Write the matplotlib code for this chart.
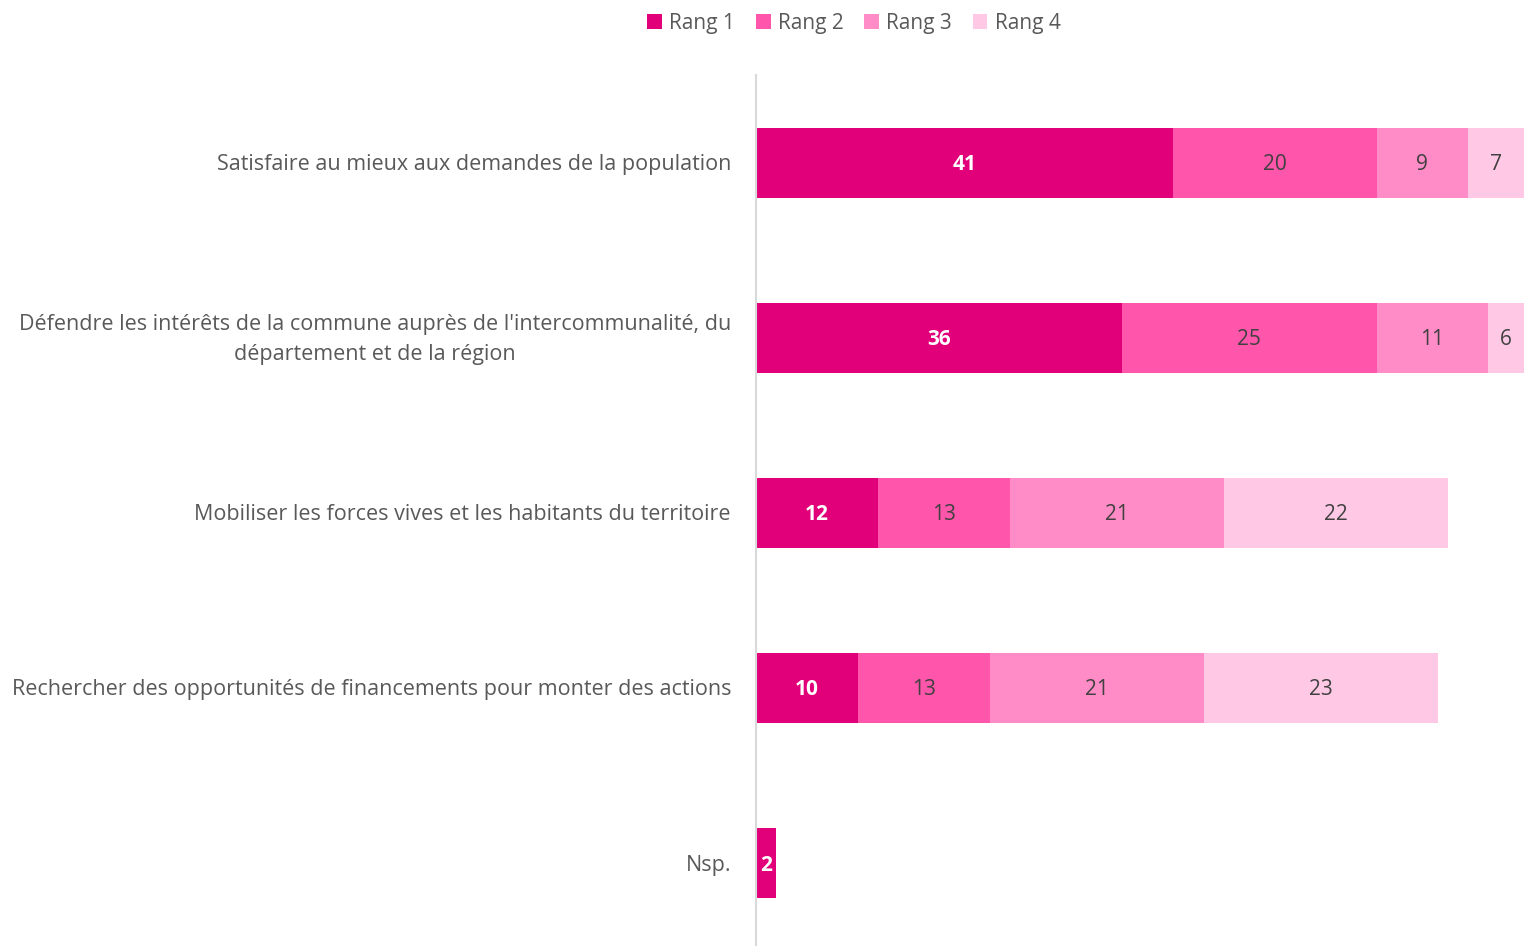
import matplotlib.pyplot as plt

plt.rcParams['font.family'] = ['Open Sans', 'DejaVu Sans']

# data
categories = [
    "Satisfaire au mieux aux demandes de la population",
    "Défendre les intérêts de la commune auprès de l'intercommunalité, du\ndépartement et de la région",
    "Mobiliser les forces vives et les habitants du territoire",
    "Rechercher des opportunités de financements pour monter des actions",
    "Nsp.",
]
series_names = ["Rang 1", "Rang 2", "Rang 3", "Rang 4"]
rang1 = [41, 36, 12, 10, 2]
rang2 = [20, 25, 13, 13, 0]
rang3 = [9, 11, 21, 21, 0]
rang4 = [7, 6, 22, 23, 0]

colors = ["#E2007A", "#FF55AA", "#FF8CC6", "#FFC8E4"]
text_colors = ["white", "#404040", "#404040", "#404040"]
xmax = 75.5

fig = plt.figure(figsize=(15.24, 9.46), dpi=100)
ax = fig.add_axes([756 / 1524, -4.5 / 946, 1 - 756 / 1524, 875.5 / 946])

y = list(range(len(categories)))
left = [0] * len(categories)
for k, vals in enumerate([rang1, rang2, rang3, rang4]):
    ax.barh(y, vals, left=left, height=0.4, color=colors[k], label=series_names[k])
    for i, v in enumerate(vals):
        if v > 0:
            a = left[i]
            b = min(left[i] + v, xmax)
            ax.annotate(str(v), xy=((a + b) / 2, y[i]), xytext=(0, -1.5),
                        textcoords='offset points', ha='center', va='center',
                        fontsize=15, color=text_colors[k],
                        fontweight='bold' if k == 0 else 'normal')
    left = [l + v for l, v in zip(left, vals)]

ax.set_xlim(0, xmax)
ax.set_ylim(4.5, -0.5)
ax.set_yticks([])
ax.set_xticks([])
for s in ['top', 'right', 'bottom']:
    ax.spines[s].set_visible(False)
ax.spines['left'].set_color('#D9D9D9')
ax.spines['left'].set_linewidth(1.5)

# category labels, right aligned next to the axis
for i, cat in enumerate(categories):
    ax.annotate(cat, xy=(0, y[i]), xycoords=('axes fraction', 'data'),
                xytext=(-18, -1.5), textcoords='offset points',
                ha='right', va='center', multialignment='center',
                fontsize=15.5, color='#595959', linespacing=1.55)

fig.legend(loc='upper center', bbox_to_anchor=(854 / 1524, 1.006), ncol=4,
           frameon=False, fontsize=15, labelcolor='#595959',
           handlelength=0.7, handleheight=0.7, handletextpad=0.35, columnspacing=1.0)

fig.savefig('out.png', dpi=100)
